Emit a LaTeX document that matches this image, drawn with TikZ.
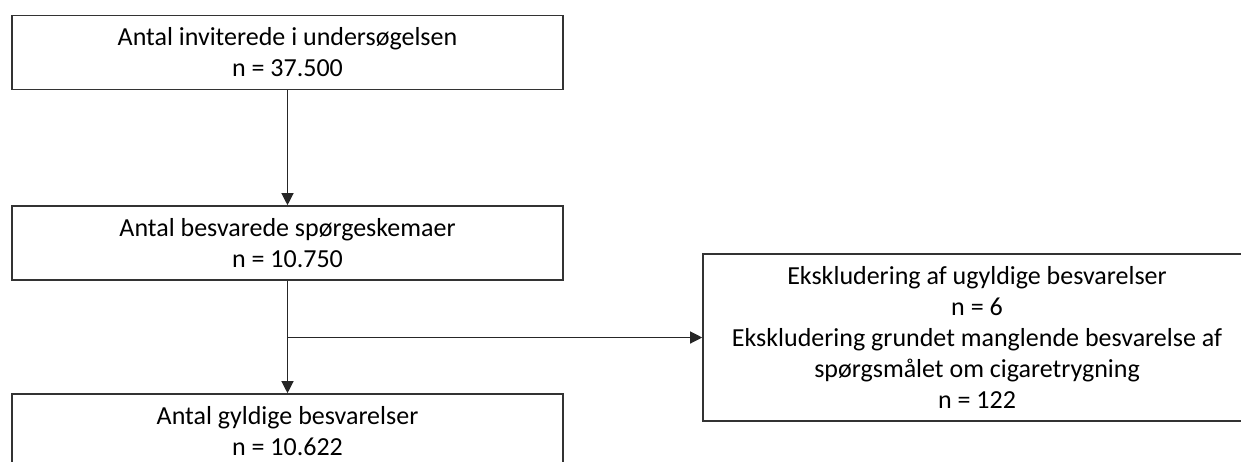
\documentclass[tikz,border=0pt]{standalone}
\usepackage{fontspec}
\setmainfont{Carlito}
\usetikzlibrary{arrows.meta,positioning}

\begin{document}
\begin{tikzpicture}[x=0.5pt,y=-0.5pt,
    flowbox/.style={draw=black!80,line width=0.8pt,text=black,align=center,minimum width=275.5pt,minimum height=37pt,inner sep=0pt,font=\fontsize{13}{15.5}\selectfont},
    flowarrow/.style={-{Triangle[width=6pt,length=6pt]},draw=black!85,line width=0.6pt}]
    \useasboundingbox (0,0) rectangle (1241,461);
    \clip (0,0) rectangle (1241,461);
    \node[flowbox] (invited) at (287.5,52.5) {Antal inviterede i undersøgelsen\\n = 37.500};
    \node[flowbox] (answered) at (287.5,243) {Antal besvarede spørgeskemaer\\n = 10.750};
    \node[flowbox] (valid) at (287.5,431) {Antal gyldige besvarelser\\n = 10.622};
    \node[flowbox,minimum width=274pt,minimum height=83.5pt] (excluded) at (977,337.5) {Ekskludering af ugyldige besvarelser\\n = 6\\Ekskludering grundet manglende besvarelse af\\spørgsmålet om cigaretrygning\\n = 122};
    \coordinate (split) at (answered.south |- excluded.west);

    \draw[flowarrow] (invited) -- (answered);
    \draw[flowarrow] (answered) -- (valid);
    \draw[flowarrow] (split) -- (excluded.west);
\end{tikzpicture}
\end{document}
